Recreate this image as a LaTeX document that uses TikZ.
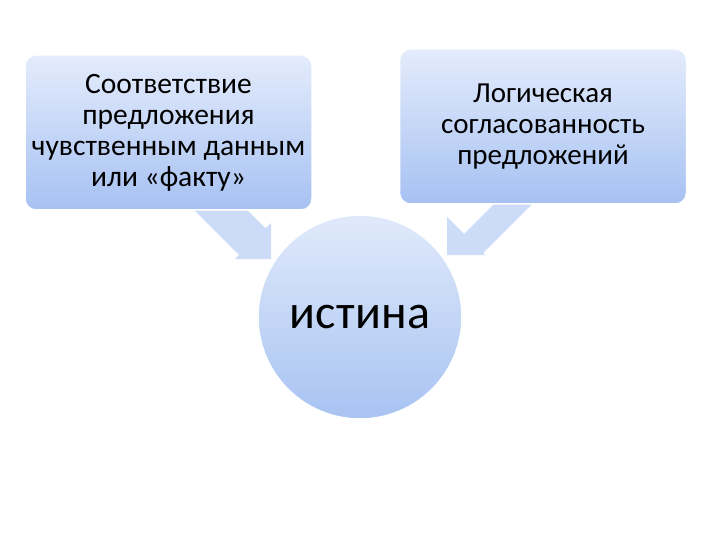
\documentclass[tikz,border=0pt]{standalone}
\usepackage{fontspec}
\setmainfont{Carlito}
\begin{document}
\begin{tikzpicture}[x=1pt,y=-1pt,
  boxnode/.style={rounded corners=11pt, minimum width=287pt, minimum height=155pt,
    top color=boxtop, bottom color=boxbot, draw=white, line width=1.5pt,
    align=center, inner sep=0pt, font=\fontsize{29}{31}\selectfont},
  circnode/.style={circle, minimum size=204pt, inner sep=0pt,
    top color=circtop, bottom color=circbot, draw=white, line width=1.5pt,
    font=\fontsize{48}{50}\selectfont},
  blockarrow/.style={fill=arrowfill, draw=none}]
\definecolor{boxtop}{HTML}{E4ECFC}
\definecolor{boxbot}{HTML}{A6C1F2}
\definecolor{circtop}{HTML}{E0EAFB}
\definecolor{circbot}{HTML}{A8C3F2}
\definecolor{arrowfill}{HTML}{CCDBF8}
\useasboundingbox[fill=white] (0,0) rectangle (720,540);
% block arrows (behind)
\fill[blockarrow] (184,200) -- (239,255) -- (235,259) -- (271,259) -- (271,223) -- (265.5,228.5) -- (237,200) -- cycle;
\fill[blockarrow] (541,195) -- (483,253) -- (485,255) -- (447,255) -- (447,217) -- (464,234) -- (503,195) -- cycle;
% nodes
\node[boxnode, font=\fontsize{29.5}{31}\selectfont] (left) at (168.5,132.5) {Соответствие\\предложения\\чувственным данным\\или «факту»};
\node[boxnode] (right) at (543,126.5) {Логическая\\согласованность\\предложений};
\node[circnode] (truth) at (360,317) {\addfontfeatures{LetterSpace=1}истина};
\end{tikzpicture}
\end{document}
